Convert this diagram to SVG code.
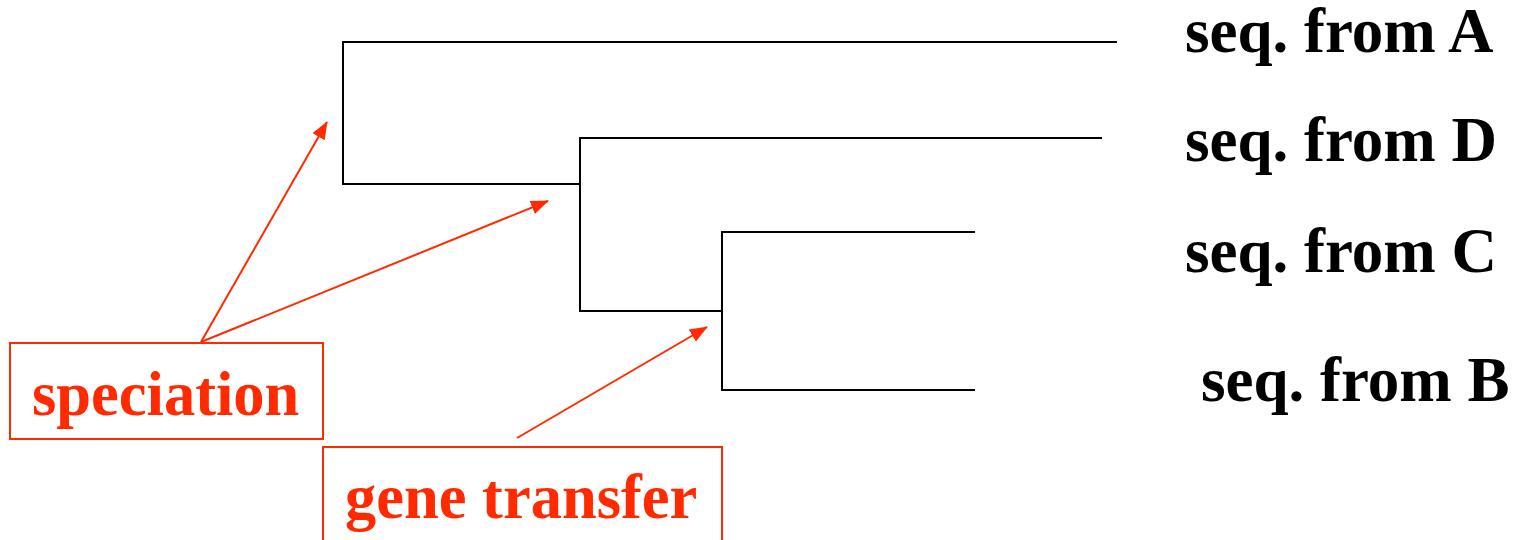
<svg xmlns="http://www.w3.org/2000/svg" width="1516" height="540" viewBox="0 0 1516 540">
<style>
.tree{stroke:#000;stroke-width:2;fill:none}
.arr{stroke:#FF2A00;stroke-width:2;fill:none}
.box{stroke:#FF2A00;stroke-width:2;fill:none}
.lbl{font-family:"Liberation Serif","Times New Roman",serif;font-weight:bold;font-size:63px;fill:#000}
.red{font-family:"Liberation Serif","Times New Roman",serif;font-weight:bold;font-size:62.5px;fill:#FF2A00}
</style>
<defs>
<marker id="ah" markerUnits="userSpaceOnUse" markerWidth="18" markerHeight="14" refX="17" refY="7" orient="auto">
<path d="M0,0 L18,7 L0,14 Z" fill="#FF2A00"/>
</marker>
</defs>
<g id="tree">
<path class="tree" d="M1117,42 H343 V184 H580"/>
<path class="tree" d="M1102,138 H580 V311 H722"/>
<path class="tree" d="M975,232 H722 V390 H975"/>
</g>
<g id="connectors">
<line class="arr" x1="201" y1="342" x2="327" y2="122" marker-end="url(#ah)"/>
<line class="arr" x1="201" y1="342" x2="548" y2="201" marker-end="url(#ah)"/>
<line class="arr" x1="517" y1="438" x2="707" y2="327" marker-end="url(#ah)"/>
</g>
<g id="labelA"><text class="lbl" x="1185" y="52">seq. from A</text></g>
<g id="labelD"><text class="lbl" x="1185" y="161">seq. from D</text></g>
<g id="labelC"><text class="lbl" x="1185" y="272">seq. from C</text></g>
<g id="labelB"><text class="lbl" x="1201" y="401">seq. from B</text></g>
<g id="speciation">
<rect class="box" x="10" y="343" width="313" height="96"/>
<text class="red" x="32" y="415">speciation</text>
</g>
<g id="gene-transfer">
<rect class="box" x="323" y="447" width="399" height="110"/>
<text class="red" x="345" y="518">gene transfer</text>
</g>
</svg>
